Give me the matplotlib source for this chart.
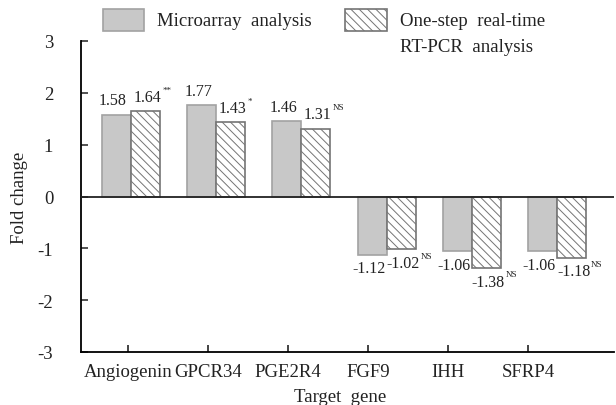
import matplotlib
matplotlib.use("Agg")
import matplotlib.pyplot as plt
from matplotlib.patches import Rectangle
import numpy as np

genes = ["Angiogenin", "GPCR34", "PGE2R4", "FGF9", "IHH", "SFRP4"]
microarray = [1.58, 1.77, 1.46, -1.12, -1.06, -1.06]
rtpcr = [1.64, 1.43, 1.31, -1.02, -1.38, -1.18]
significance = ["**", "*", "NS", "NS", "NS", "NS"]
yticks = [-3, -2, -1, 0, 1, 2, 3]

plt.rcParams['font.family'] = ['Liberation Serif', 'DejaVu Serif']
plt.rcParams['hatch.linewidth'] = 0.7

W, H = 616, 406
fig = plt.figure(figsize=(W / 100, H / 100), dpi=100)
ax = fig.add_axes([81 / W, 1 - 353 / H, (614 - 81) / W, (353 - 42) / H])

x = np.arange(len(genes))
bw = 0.34
gray_face = '#c8c8c8'
gray_edge = '#a2a2a2'
hatch_edge = '#747474'

ax.bar(x - bw / 2, microarray, bw, color=gray_face, edgecolor=gray_edge, linewidth=1.2, zorder=2)
ax.bar(x + bw / 2, rtpcr, bw, color='white', edgecolor=hatch_edge, hatch='\\\\\\\\', linewidth=1.2, zorder=2)

ax.axhline(0, color='#222222', lw=1.3, zorder=3)

ax.set_ylim(-3, 3)
ax.set_xlim(-0.587, 5.669)
ax.set_yticks(yticks)
ax.set_yticklabels([str(t) for t in yticks])
tick_pos = x * (80 / 85.2) - 0.035
ax.set_xticks(tick_pos)
ax.set_xticklabels(genes)

for s in ['top', 'right']:
    ax.spines[s].set_visible(False)
for s in ['left', 'bottom']:
    ax.spines[s].set_linewidth(1.3)
    ax.spines[s].set_color('black')

ax.tick_params(axis='y', direction='in', length=5, width=1.2, pad=20, labelsize=13.5, colors='#333333')
ax.tick_params(axis='x', direction='in', length=5, width=1.2, pad=8, labelsize=13.5, colors='#222222')
for lab in ax.get_xticklabels() + ax.get_yticklabels():
    lab.set_color('#222222')

ax.set_ylabel("Fold change", fontsize=13.5, color='#222222')
ax.yaxis.set_label_coords((28 - 81) / 533, 0.5)

def label(xpos, v, dx, sup=None):
    if v >= 0:
        t = ax.annotate(f"{v:.2f}", (xpos, v), xytext=(dx, 4.5), textcoords='offset points',
                        ha='center', va='bottom', fontsize=11.5, color='#222222')
    else:
        t = ax.annotate(f"{v:.2f}", (xpos, v), xytext=(dx, -4), textcoords='offset points',
                        ha='center', va='top', fontsize=11.5, color='#222222')
    if sup:
        ax.annotate(sup, xy=(1, 1), xycoords=t, xytext=(0.5, -0.5), textcoords='offset points',
                    ha='left', va='center', fontsize=6.5, color='#222222')

for i in range(len(genes)):
    label(x[i] - bw / 2, microarray[i], -2.5)
    label(x[i] + bw / 2, rtpcr[i], 1.5, significance[i])

fig.text(340 / W, 1 - 397.5 / H, "Target  gene", ha='center', va='center', fontsize=13.5, color='#222222')

# legend
fig.patches.append(Rectangle((103 / W, 1 - 32 / H), 41 / W, 22 / H, transform=fig.transFigure,
                             facecolor=gray_face, edgecolor=gray_edge, lw=1.2))
fig.patches.append(Rectangle((345 / W, 1 - 32 / H), 42 / W, 22 / H, transform=fig.transFigure,
                             facecolor='white', edgecolor=hatch_edge, hatch='\\\\\\\\', lw=1.2))
fig.text(157 / W, 1 - 22 / H, "Microarray  analysis", ha='left', va='center', fontsize=13.5, color='#222222')
fig.text(400 / W, 1 - 22 / H, "One-step  real-time", ha='left', va='center', fontsize=13.5, color='#222222')
fig.text(400 / W, 1 - 48 / H, "RT-PCR  analysis", ha='left', va='center', fontsize=13.5, color='#222222')

fig.savefig("out.png", dpi=100)
